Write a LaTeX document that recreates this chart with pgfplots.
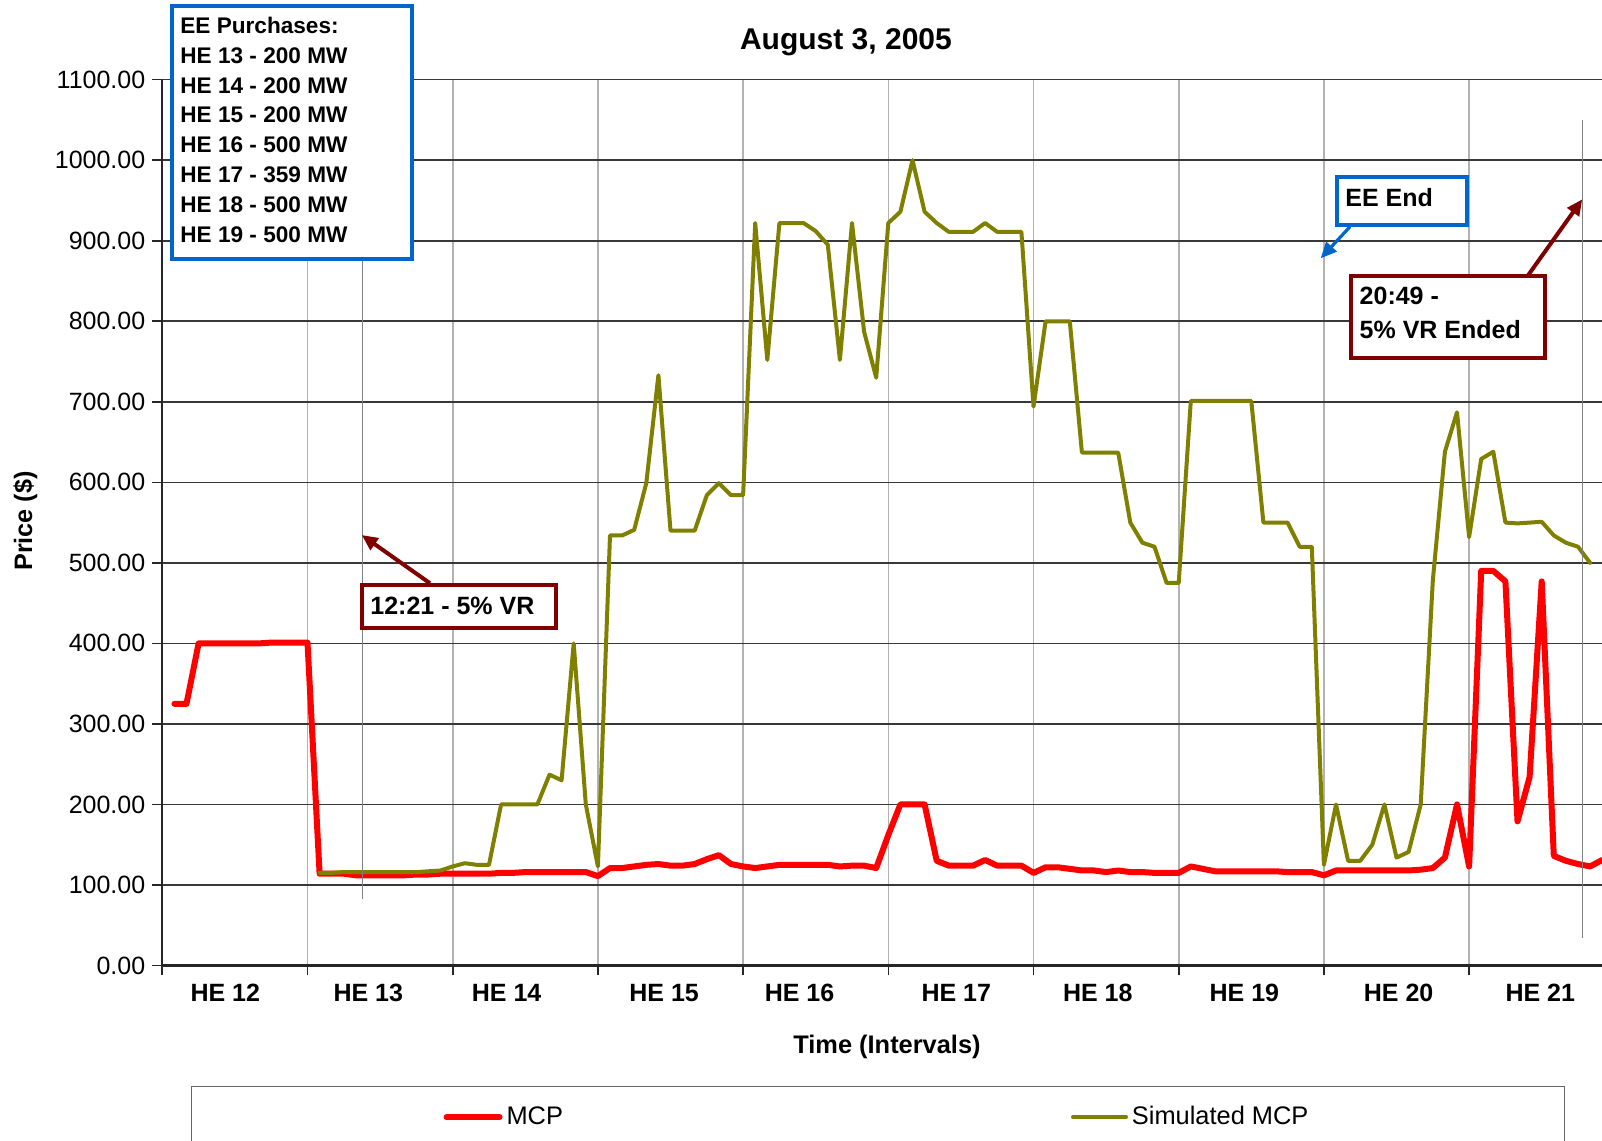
\documentclass[border=0pt]{standalone}
\usepackage{fontspec}
\setmainfont{Liberation Sans}
\usepackage{pgfplots}
\usepackage{pgfplotstable}
\pgfplotsset{compat=1.18}
\usetikzlibrary{arrows.meta}

\definecolor{mcpred}{RGB}{255,0,0}
\definecolor{simolive}{RGB}{128,128,0}
\definecolor{eeblue}{RGB}{0,102,204}
\definecolor{vrred}{RGB}{128,0,0}

% interval index (5-minute intervals from 11:00) and price
\pgfplotstableread{
j v
1 325
2 325
3 400
4 400
5 400
6 400
7 400
8 400
9 401
10 401
11 401
12 401
13 114
14 114
15 114
16 112
17 112
18 112
19 112
20 112
21 113
22 113
23 114
24 114
25 114
26 114
27 114
28 115
29 115
30 116
31 116
32 116
33 116
34 116
35 116
36 111
37 121
38 121
39 123
40 125
41 126
42 124
43 124
44 126
45 132
46 137
47 126
48 123
49 121
50 123
51 125
52 125
53 125
54 125
55 125
56 123
57 124
58 124
59 121
60 162
61 200
62 200
63 200
64 130
65 124
66 124
67 124
68 131
69 124
70 124
71 124
72 115
73 122
74 122
75 120
76 118
77 118
78 116
79 118
80 116
81 116
82 115
83 115
84 115
85 123
86 120
87 117
88 117
89 117
90 117
91 117
92 117
93 116
94 116
95 116
96 112
97 118
98 118
99 118
100 118
101 118
102 118
103 118
104 119
105 121
106 134
107 200
108 123
109 490
110 490
111 477
112 179
113 234
114 477
115 136
116 130
117 126
118 123
119 131
}\mcpdata

\pgfplotstableread{
j v
13 115
14 115
15 116
16 116
17 116
18 116
19 116
20 116
21 116
22 117
23 118
24 123
25 127
26 125
27 125
28 200
29 200
30 200
31 200
32 237
33 230
34 400
35 200
36 123
37 534
38 534
39 541
40 599
41 733
42 540
43 540
44 540
45 584
46 599
47 584
48 584
49 922
50 752
51 922
52 922
53 922
54 912
55 895
56 752
57 922
58 787
59 730
60 922
61 936
62 1000
63 936
64 922
65 911
66 911
67 911
68 922
69 911
70 911
71 911
72 694
73 800
74 800
75 800
76 637
77 637
78 637
79 637
80 550
81 525
82 520
83 475
84 475
85 701
86 701
87 701
88 701
89 701
90 701
91 550
92 550
93 550
94 520
95 520
96 125
97 200
98 130
99 130
100 150
101 200
102 134
103 141
104 200
105 478
106 638
107 687
108 532
109 629
110 638
111 550
112 549
113 550
114 551
115 534
116 525
117 520
118 500
}\simdata

\begin{document}
\begin{tikzpicture}
\begin{axis}[
    at={(81.15pt,87.75pt)}, anchor=south west,
    scale only axis,
    width=719.95pt, height=442.9pt,
    xmin=0, xmax=119,
    ymin=0, ymax=1100,
    axis lines=left,
    axis line style={-},
    x axis line style={black!85, line width=1.2pt},
    y axis line style={black!85, line width=0.9pt},
    tick align=outside,
    major tick length=5pt,
    tick style={black!85, line width=0.8pt},
    xtick={0,12,...,108},
    xticklabels={},
    extra x ticks={5.21,17.02,28.46,41.47,52.66,65.62,77.31,89.43,102.18,113.88},
    extra x tick labels={HE 12,HE 13,HE 14,HE 15,HE 16,HE 17,HE 18,HE 19,HE 20,HE 21},
    extra x tick style={major tick length=0pt, grid=none,
        xticklabel style={font=\fontsize{12.5}{15}\selectfont\bfseries, anchor=center, yshift=-13.75pt}},
    ytick={0,100,...,1100},
    scaled y ticks=false,
    yticklabel style={font=\fontsize{12.5}{15}\selectfont,
        /pgf/number format/fixed,
        /pgf/number format/fixed zerofill,
        /pgf/number format/precision=2,
        /pgf/number format/1000 sep={},
        /pgf/number format/assume math mode=true},
    xmajorgrids, ymajorgrids,
    x grid style={black!30, line width=0.8pt},
    y grid style={black!78, line width=0.8pt},
    title={August 3, 2005},
    title style={at={(axis description cs:0.4748,1.0287)}, anchor=center,
        font=\fontsize{15}{18}\selectfont\bfseries},
    xlabel={Time (Intervals)},
    xlabel style={at={(axis description cs:0.5033,-0.092)}, anchor=center,
        font=\fontsize{12.7}{15}\selectfont\bfseries},
    ylabel={Price (\$)},
    ylabel style={at={(axis description cs:-0.095,0.5018)}, anchor=center,
        font=\fontsize{12.6}{15}\selectfont\bfseries},
    legend columns=2,
    legend image code/.code={\draw[#1] (0pt,0pt) -- (26.5pt,0pt);},
    legend style={at={(axis description cs:0.0199,-0.136)}, anchor=north west,
        draw=black!60, line width=0.6pt, inner xsep=126pt, inner ysep=8pt,
        font=\fontsize{12.7}{15}\selectfont,
        /tikz/every even column/.append style={column sep=252pt}},
]
\addplot[mcpred, line width=3pt, line join=round, line cap=round] table[x=j, y=v] {\mcpdata};
\addlegendentry{MCP}
\addplot[simolive, line width=2pt, line join=round, line cap=round] table[x=j, y=v] {\simdata};
\addlegendentry{Simulated MCP}
\end{axis}

% annotations, in pixel units of the 1602x1141 reference
\begin{scope}[x=0.5pt, y=-0.5pt, yshift=570.5pt]
  \draw[black!50, line width=0.75pt] (362.3,261) -- (362.3,899);
  \draw[black!50, line width=0.75pt] (1582.7,120) -- (1582.7,938);

  \draw[eeblue, line width=2pt, fill=white] (171.7,6) rectangle (411.7,259.3);
  \foreach \t [count=\i from 0] in {EE Purchases:,HE 13 - 200 MW,HE 14 - 200 MW,HE 15 - 200 MW,HE 16 - 500 MW,HE 17 - 359 MW,HE 18 - 500 MW,HE 19 - 500 MW}
    \node[anchor=base west, inner sep=0pt, font=\fontsize{11.3}{13}\selectfont\bfseries] at (180,33.3+29.86*\i) {\t};

  \draw[eeblue, line width=1.6pt, -{Triangle[length=8pt,width=7pt]}] (1350,226.7) -- (1320.7,258.3);
  \draw[eeblue, line width=2pt, fill=white] (1336.7,176.7) rectangle (1466.7,225);
  \node[anchor=base west, inner sep=0pt, font=\fontsize{12.5}{15}\selectfont\bfseries] at (1345,206.7) {EE End};

  \draw[vrred, line width=2pt, -{Triangle[length=8pt,width=7pt]}] (1528.3,275) -- (1582.3,199.3);
  \draw[vrred, line width=2pt, fill=white] (1351,276) rectangle (1545,358.3);
  \node[anchor=base west, inner sep=0pt, font=\fontsize{12.5}{15}\selectfont\bfseries] at (1359.3,305) {20:49 -};
  \node[anchor=base west, inner sep=0pt, font=\fontsize{12.5}{15}\selectfont\bfseries] at (1359.3,338.3) {5\% VR Ended};

  \draw[vrred, line width=2pt, -{Triangle[length=8pt,width=7pt]}] (430,583.3) -- (361.7,535);
  \draw[vrred, line width=2pt, fill=white] (361.7,585) rectangle (556,628.3);
  \node[anchor=base west, inner sep=0pt, font=\fontsize{12.5}{15}\selectfont\bfseries] at (370,615) {12:21 - 5\% VR};
\end{scope}

\pgfresetboundingbox
\useasboundingbox (0,0) rectangle (801pt,570.5pt);
\end{tikzpicture}
\end{document}
